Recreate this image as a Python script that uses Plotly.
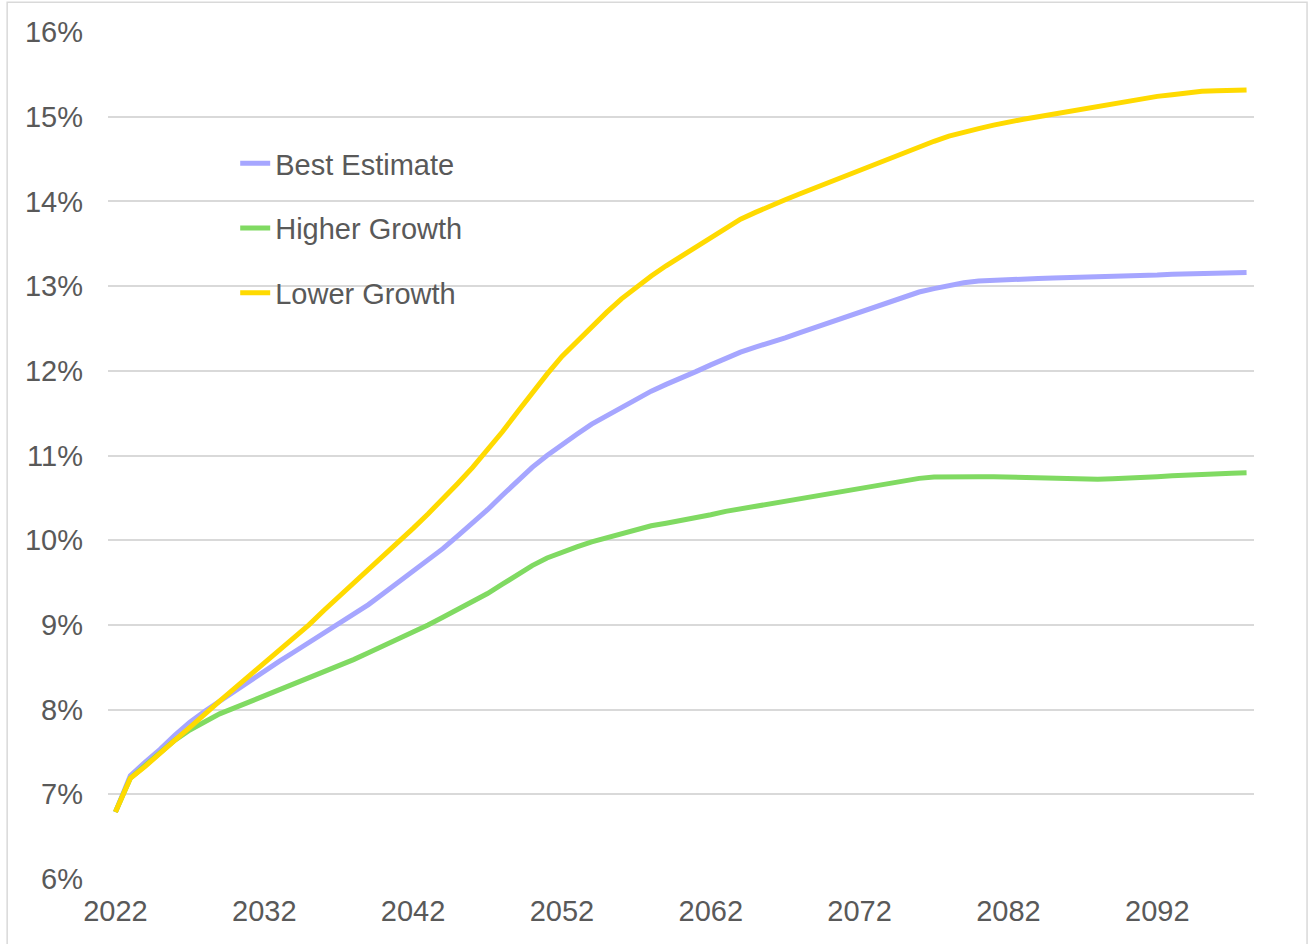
import plotly.graph_objects as go

years = list(range(2022, 2099))

best_estimate = [
    6.79, 7.22, 7.38, 7.53, 7.70, 7.85, 7.98, 8.10, 8.22, 8.34,
    8.46, 8.57, 8.68, 8.79, 8.90, 9.01, 9.12, 9.24, 9.37, 9.50,
    9.63, 9.76, 9.90, 10.05, 10.20, 10.36, 10.53, 10.70, 10.86, 11.00,
    11.13, 11.25, 11.37, 11.47, 11.57, 11.67, 11.76, 11.84, 11.91, 11.99,
    12.07, 12.15, 12.22, 12.28, 12.33, 12.39, 12.45, 12.51, 12.57, 12.63,
    12.69, 12.75, 12.82, 12.88, 12.93, 12.97, 13.01, 13.04, 13.06, 13.07,
    13.08, 13.085, 13.09, 13.095, 13.10, 13.10, 13.10, 13.105, 13.11, 13.12,
    13.13, 13.14, 13.145, 13.15, 13.155, 13.16, 13.16,
]

higher_growth = [
    6.79, 7.19, 7.34, 7.50, 7.64, 7.76, 7.86, 7.95, 8.02, 8.09,
    8.16, 8.23, 8.30, 8.37, 8.45, 8.52, 8.59, 8.67, 8.75, 8.84,
    8.92, 9.00, 9.09, 9.18, 9.27, 9.37, 9.48, 9.59, 9.70, 9.79,
    9.86, 9.92, 9.98, 10.03, 10.08, 10.13, 10.17, 10.20, 10.23, 10.26,
    10.30, 10.34, 10.37, 10.40, 10.43, 10.46, 10.49, 10.52, 10.55, 10.58,
    10.61, 10.64, 10.67, 10.71, 10.73, 10.745, 10.75, 10.75, 10.75, 10.75,
    10.745, 10.74, 10.735, 10.73, 10.725, 10.72, 10.72, 10.725, 10.73, 10.74,
    10.75, 10.76, 10.77, 10.78, 10.785, 10.79, 10.795,
]

lower_growth = [
    6.79, 7.19, 7.33, 7.49, 7.64, 7.79, 7.95, 8.10, 8.25, 8.40,
    8.55, 8.70, 8.85, 9.00, 9.17, 9.33, 9.49, 9.65, 9.81, 9.98,
    10.14, 10.31, 10.48, 10.67, 10.86, 11.06, 11.28, 11.51, 11.74, 11.96,
    12.17, 12.35, 12.53, 12.69, 12.85, 12.99, 13.12, 13.24, 13.35, 13.47,
    13.58, 13.69, 13.79, 13.87, 13.95, 14.02, 14.09, 14.16, 14.23, 14.30,
    14.37, 14.44, 14.51, 14.58, 14.65, 14.71, 14.77, 14.82, 14.86, 14.90,
    14.94, 14.97, 15.00, 15.03, 15.06, 15.10, 15.13, 15.16, 15.19, 15.22,
    15.24, 15.26, 15.28, 15.30, 15.305, 15.31, 15.315,
]

series_names = ["Best Estimate", "Higher Growth", "Lower Growth"]
series_colors = ["#A6A6FF", "#80DA62", "#FFDA00"]
x_tick_years = [2022, 2032, 2042, 2052, 2062, 2072, 2082, 2092]
y_ticks = list(range(6, 17))
y_tick_labels = [f"{v}%" for v in y_ticks]

FONT = "Liberation Sans, Arial, sans-serif"
GREY = "#595959"

fig = go.Figure()
for i, (name, vals, col) in enumerate(zip(series_names,
                                          [best_estimate, higher_growth, lower_growth],
                                          series_colors)):
    fig.add_trace(go.Scatter(
        x=years, y=vals, mode="lines", name=name,
        legendgroup=f"g{i}",
        line=dict(color=col, width=5),
        hoverinfo="skip",
    ))

fig.update_layout(
    width=1308, height=944,
    margin=dict(l=108, r=54, t=32, b=65),
    paper_bgcolor="white", plot_bgcolor="white",
    font=dict(family=FONT, size=29, color=GREY),
    showlegend=True,
    legend=dict(
        x=0.111, y=0.875, xanchor="left", yanchor="top",
        bgcolor="rgba(0,0,0,0)", borderwidth=0,
        tracegroupgap=24,
        font=dict(family=FONT, size=29, color=GREY),
        itemclick=False, itemdoubleclick=False,
    ),
    xaxis=dict(
        range=[2021.5, 2098.5],
        tickvals=x_tick_years,
        ticktext=[str(v) for v in x_tick_years],
        showgrid=False, zeroline=False, showline=False,
        ticks="", ticklabelstandoff=12,
        tickfont=dict(family=FONT, size=29, color=GREY),
        fixedrange=True,
    ),
    yaxis=dict(
        range=[6, 16],
        tickvals=y_ticks,
        ticktext=y_tick_labels,
        showgrid=True, gridcolor="#D9D9D9", gridwidth=1.5,
        zeroline=False, showline=False,
        ticks="", ticklabelstandoff=24,
        tickfont=dict(family=FONT, size=29, color=GREY),
        fixedrange=True,
    ),
    shapes=[dict(
        type="rect", xref="paper", yref="paper",
        x0=-0.088, x1=1.0463, y0=-0.09, y1=1.035,
        line=dict(color="#D9D9D9", width=1.5), fillcolor="rgba(0,0,0,0)",
        layer="below",
    )],
)

fig.write_html("out.html", config={"displayModeBar": False})
